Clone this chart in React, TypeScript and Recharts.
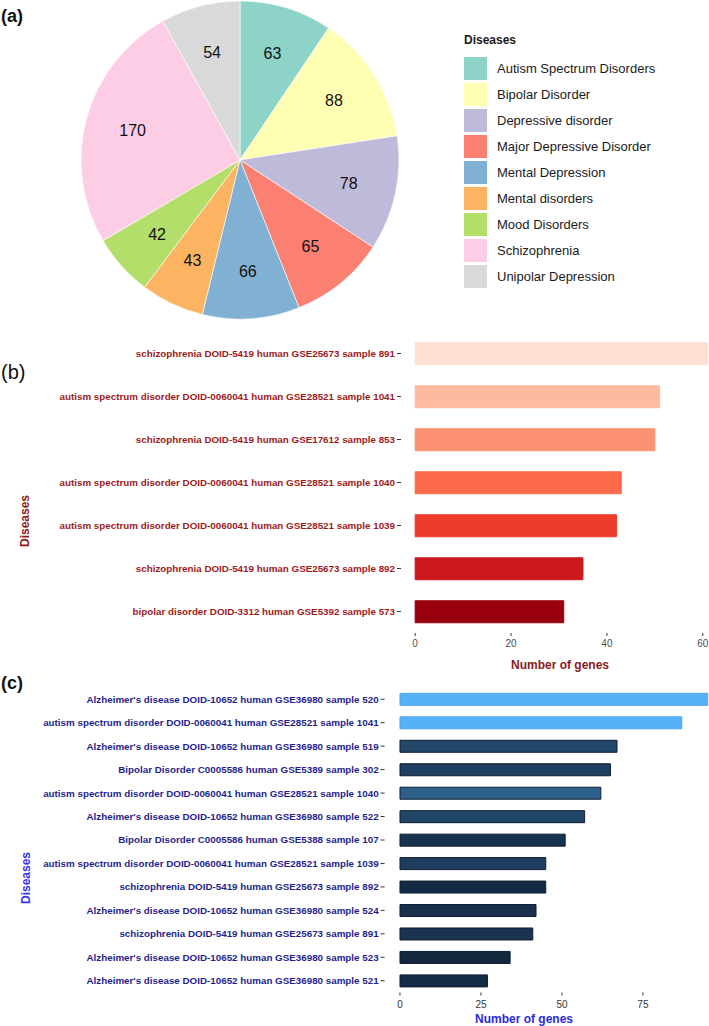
import React from "react";
import { PieChart, Pie, Cell, Legend, BarChart, Bar, XAxis, YAxis } from "recharts";

// (a) pie
const diseaseNames = [
  "Autism Spectrum Disorders",
  "Bipolar Disorder",
  "Depressive disorder",
  "Major Depressive Disorder",
  "Mental Depression",
  "Mental disorders",
  "Mood Disorders",
  "Schizophrenia",
  "Unipolar Depression",
];
const diseaseCounts = [63, 88, 78, 65, 66, 43, 42, 170, 54];
const pieColors = ["#8DD3C7", "#FFFFB3", "#BEBADA", "#FB8072", "#80B1D3", "#FDB462", "#B3DE69", "#FCCDE5", "#D9D9D9"];

// (b) red bars
const bSamples = [
  "schizophrenia DOID-5419 human GSE25673 sample 891",
  "autism spectrum disorder DOID-0060041 human GSE28521 sample 1041",
  "schizophrenia DOID-5419 human GSE17612 sample 853",
  "autism spectrum disorder DOID-0060041 human GSE28521 sample 1040",
  "autism spectrum disorder DOID-0060041 human GSE28521 sample 1039",
  "schizophrenia DOID-5419 human GSE25673 sample 892",
  "bipolar disorder DOID-3312 human GSE5392 sample 573",
];
const bGenes = [61, 51, 50, 43, 42, 35, 31];
const bColors = ["#FEE0D2", "#FCBBA1", "#FC9272", "#FB6A4A", "#EF3B2C", "#CB181D", "#99000D"];
const bTicks = [0, 20, 40, 60];

// (c) blue bars
const cSamples = [
  "Alzheimer's disease DOID-10652 human GSE36980 sample 520",
  "autism spectrum disorder DOID-0060041 human GSE28521 sample 1041",
  "Alzheimer's disease DOID-10652 human GSE36980 sample 519",
  "Bipolar Disorder C0005586 human GSE5389 sample 302",
  "autism spectrum disorder DOID-0060041 human GSE28521 sample 1040",
  "Alzheimer's disease DOID-10652 human GSE36980 sample 522",
  "Bipolar Disorder C0005586 human GSE5388 sample 107",
  "autism spectrum disorder DOID-0060041 human GSE28521 sample 1039",
  "schizophrenia DOID-5419 human GSE25673 sample 892",
  "Alzheimer's disease DOID-10652 human GSE36980 sample 524",
  "schizophrenia DOID-5419 human GSE25673 sample 891",
  "Alzheimer's disease DOID-10652 human GSE36980 sample 523",
  "Alzheimer's disease DOID-10652 human GSE36980 sample 521",
];
const cGenes = [95, 87, 67, 65, 62, 57, 51, 45, 45, 42, 41, 34, 27];
const cColors = [
  "#56B1F7", "#56B1F7", "#23486A", "#1E3F5F", "#2E5F8A", "#214768", "#19324F",
  "#1E3D5E", "#142A44", "#18304C", "#1A3351", "#13283F", "#152C45",
];
const cTicks = [0, 25, 50, 75];

const FONT = "'Liberation Sans', Arial, sans-serif";
const RADIAN = Math.PI / 180;

const pieData = diseaseNames.map((name, i) => ({ name, value: diseaseCounts[i] }));
const bData = bSamples.map((name, i) => ({ name, value: bGenes[i] }));
const cData = cSamples.map((name, i) => ({ name, value: cGenes[i] }));

function pieLabel(props: any) {
  const { cx, cy, midAngle, outerRadius, value } = props;
  const r = outerRadius * 0.7;
  const x = cx + r * Math.cos(-midAngle * RADIAN);
  const y = cy + r * Math.sin(-midAngle * RADIAN);
  return (
    <text x={x} y={y} textAnchor="middle" dominantBaseline="central" fontSize={16} fill="#111" fontFamily={FONT}>
      {value}
    </text>
  );
}

function pieLegend() {
  return (
    <div style={{ fontFamily: FONT, color: "#1a1a1a" }}>
      <div style={{ fontWeight: "bold", fontSize: 12, height: 22, lineHeight: "14px" }}>Diseases</div>
      {diseaseNames.map((n, i) => (
        <div key={n} style={{ display: "flex", alignItems: "center", height: 26 }}>
          <div style={{ width: 23, height: 23, background: pieColors[i], marginRight: 10 }} />
          <span style={{ fontSize: 13 }}>{n}</span>
        </div>
      ))}
    </div>
  );
}

const titleText = (text: string, x: number, y: number, color: string, rotate = false) => () => (
  <text
    x={x}
    y={y}
    fill={color}
    fontSize={12}
    fontWeight="bold"
    fontFamily={FONT}
    textAnchor="middle"
    dominantBaseline="central"
    transform={rotate ? `rotate(-90 ${x} ${y})` : undefined}
  >
    {text}
  </text>
);

const sampleTick = (color: string) => (props: any) => (
  <text
    x={props.x}
    y={props.y}
    dy="0.355em"
    textAnchor="end"
    fill={color}
    fontSize={9.8}
    fontWeight="bold"
    fontFamily={FONT}
  >
    {props.payload.value}
  </text>
);

const panelLabel = (text: string, top: number, bold: boolean, size: number) => (
  <div style={{ position: "absolute", left: 1, top, fontSize: size, fontWeight: bold ? "bold" : "normal", lineHeight: 1, fontFamily: FONT, color: "#111" }}>
    {text}
  </div>
);

export default function App() {
  return (
    <div style={{ position: "absolute", left: 0, top: 0, width: 709, height: 1026, background: "#fff", overflow: "hidden" }}>
      {panelLabel("(a)", 7, true, 18)}
      {panelLabel("(b)", 362, false, 20)}
      {panelLabel("(c)", 674, true, 18)}

      <div style={{ position: "absolute", left: 0, top: 0 }}>
        <PieChart width={709} height={325} margin={{ top: 0, right: 0, bottom: 0, left: 0 }}>
          <Pie
            data={pieData}
            dataKey="value"
            nameKey="name"
            cx={240}
            cy={160}
            outerRadius={159}
            startAngle={90}
            endAngle={-270}
            stroke="#fff"
            strokeWidth={0.6}
            label={pieLabel}
            labelLine={false}
            isAnimationActive={false}
          >
            {pieData.map((d, i) => (
              <Cell key={d.name} fill={pieColors[i]} />
            ))}
          </Pie>
          <Legend content={pieLegend} wrapperStyle={{ position: "absolute", left: 464, top: 33, width: 240 }} />
        </PieChart>
      </div>

      <div style={{ position: "absolute", left: 0, top: 320 }}>
        <BarChart width={709} height={360} data={bData} layout="vertical" barCategoryGap="25%" margin={{ top: 12, right: 0, bottom: 0, left: 0 }}>
          <XAxis
            type="number"
            domain={[-2.95, 61.3]}
            allowDataOverflow
            ticks={bTicks}
            height={47}
            axisLine={false}
            tickSize={3}
            tickMargin={4}
            tickLine={{ stroke: "#333" }}
            tick={{ fill: "#4d4d4d", fontSize: 10, fontFamily: FONT }}
            label={{ content: titleText("Number of genes", 560, 345, "#8B1A1A") }}
          />
          <YAxis
            type="category"
            dataKey="name"
            width={401}
            interval={0}
            axisLine={false}
            tickSize={4}
            tickMargin={2}
            tickLine={{ stroke: "#333" }}
            tick={sampleTick("#9E1B1B")}
            label={{ content: titleText("Diseases", 25, 201, "#8B1A1A", true) }}
          />
          <Bar dataKey="value" isAnimationActive={false}>
            {bData.map((d, i) => (
              <Cell key={d.name} fill={bColors[i]} stroke={bColors[i]} strokeWidth={1} />
            ))}
          </Bar>
        </BarChart>
      </div>

      <div style={{ position: "absolute", left: 0, top: 676 }}>
        <BarChart width={709} height={350} data={cData} layout="vertical" barCategoryGap="25%" margin={{ top: 11.5, right: 0, bottom: 0, left: 0 }}>
          <XAxis
            type="number"
            domain={[-4.75, 95.4]}
            allowDataOverflow
            ticks={cTicks}
            height={33.5}
            axisLine={false}
            tickSize={3}
            tickMargin={5}
            tickLine={{ stroke: "#333" }}
            tick={{ fill: "#333", fontSize: 10, fontFamily: FONT }}
            label={{ content: titleText("Number of genes", 524, 343, "#2B2BD9") }}
          />
          <YAxis
            type="category"
            dataKey="name"
            width={384.6}
            interval={0}
            axisLine={false}
            tickSize={4}
            tickMargin={2}
            tickLine={{ stroke: "#333" }}
            tick={sampleTick("#1F1F8C")}
            label={{ content: titleText("Diseases", 26, 202, "#3535EE", true) }}
          />
          <Bar dataKey="value" isAnimationActive={false}>
            {cData.map((d, i) => (
              <Cell key={d.name} fill={cColors[i]} stroke={i < 2 ? "#4AA6EE" : "#0E1E33"} strokeWidth={1} />
            ))}
          </Bar>
        </BarChart>
      </div>
    </div>
  );
}
